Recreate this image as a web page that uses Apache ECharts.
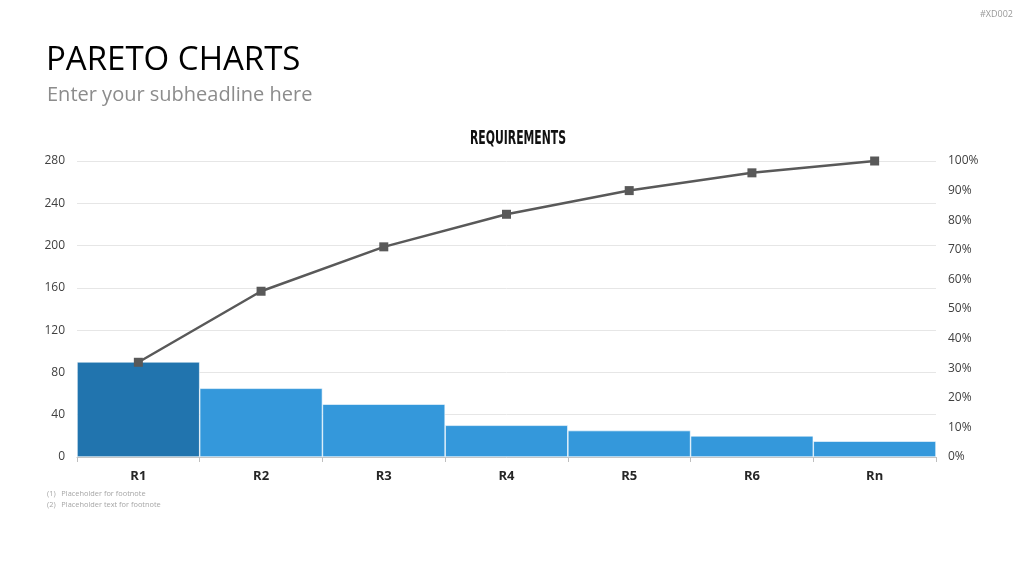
<!DOCTYPE html>
<html>
<head>
<meta charset="utf-8">
<script src="https://cdn.jsdelivr.net/npm/echarts@6/dist/echarts.min.js"></script>
<style>
  html, body { margin: 0; padding: 0; background: #fff; }
  #chart { width: 1024px; height: 576px; }
</style>
</head>
<body>
<div id="chart"></div>
<script>
// categories and values
const categories = ['R1', 'R2', 'R3', 'R4', 'R5', 'R6', 'Rn']
const counts = [90, 65, 50, 30, 25, 20, 15]
const cumulativePct = [32, 56, 71, 82, 90, 96, 100]
const leftTicks = { min: 0, max: 280, interval: 40 }
const rightTicks = { min: 0, max: 100, interval: 10 }

const chart = echarts.init(document.getElementById('chart'))

chart.setOption({
  animation: false,
  title: [
    {
      text: 'PARETO CHARTS',
      left: 41, top: 39,
      textStyle: { fontFamily: 'Open Sans', fontSize: 33, fontWeight: 'normal', color: '#000' }
    },
    {
      text: 'Enter your subheadline here',
      left: 42, top: 80,
      textStyle: { fontFamily: 'Open Sans', fontSize: 20, fontWeight: 'normal', color: '#8c8c8c' }
    },
    {
      text: '#XD002',
      right: 6, top: 5,
      textStyle: { fontFamily: 'Open Sans', fontSize: 9, fontWeight: 'normal', color: '#999' }
    },
    {
      text: '(1)   Placeholder for footnote\n(2)   Placeholder text for footnote',
      left: 42, top: 483,
      textStyle: { fontFamily: 'Open Sans', fontSize: 7.4, fontWeight: 'normal', color: '#a6a6a6', lineHeight: 11 }
    }
  ],
  graphic: [
    {
      // condensed chart heading
      type: 'text',
      x: 518, y: 139,
      scaleX: 0.635,
      style: {
        text: 'REQUIREMENTS',
        font: 'bold 19px "DejaVu Sans Condensed"',
        fill: '#111',
        textAlign: 'center',
        textVerticalAlign: 'middle'
      }
    }
  ],
  grid: { left: 77, right: 88, top: 161, bottom: 119 },
  xAxis: {
    type: 'category',
    data: categories,
    axisLine: { lineStyle: { color: '#bfbfbf' } },
    axisTick: { show: true, length: 5, lineStyle: { color: '#bfbfbf' } },
    axisLabel: { margin: 13, fontFamily: 'Open Sans', fontSize: 13, fontWeight: 'bold', color: '#262626' }
  },
  yAxis: [
    {
      type: 'value',
      min: leftTicks.min, max: leftTicks.max, interval: leftTicks.interval,
      axisLine: { show: false },
      axisTick: { show: false },
      splitLine: { lineStyle: { color: '#e6e6e6' } },
      axisLabel: { margin: 12, fontFamily: 'Open Sans', fontSize: 12, color: '#404040' }
    },
    {
      type: 'value',
      min: rightTicks.min, max: rightTicks.max, interval: rightTicks.interval,
      axisLine: { show: false },
      axisTick: { show: false },
      splitLine: { show: false },
      axisLabel: { margin: 12, fontFamily: 'Open Sans', fontSize: 12, color: '#404040', formatter: '{value}%' }
    }
  ],
  series: [
    {
      type: 'bar',
      data: counts.map((v, i) => ({
        value: v,
        itemStyle: { color: i === 0 ? '#2174ae' : '#3498db' }
      })),
      barCategoryGap: 0,
      itemStyle: { borderColor: '#ffffff', borderWidth: 0.6 }
    },
    {
      type: 'line',
      yAxisIndex: 1,
      data: cumulativePct,
      symbol: 'rect',
      symbolSize: 9,
      lineStyle: { color: '#595959', width: 2.5 },
      itemStyle: { color: '#595959' },
      z: 5
    }
  ]
})
</script>
</body>
</html>
